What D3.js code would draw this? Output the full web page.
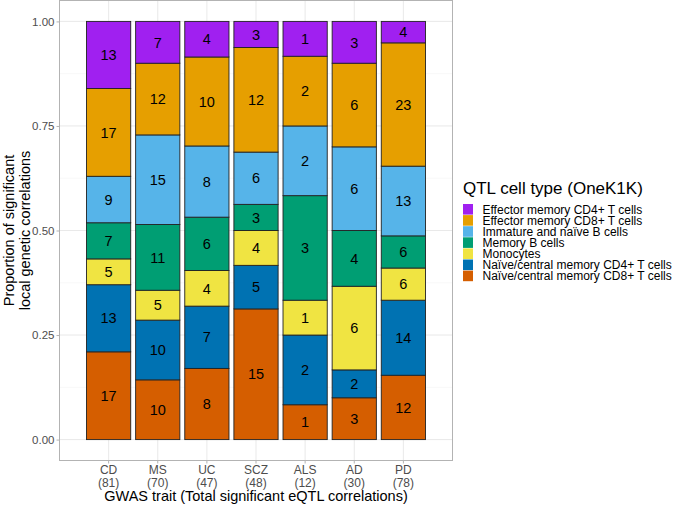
<!DOCTYPE html>
<html>
<head>
<meta charset="utf-8">
<style>
    body { margin: 0; background: white; }
    svg { font-family: 'Liberation Sans', Arial, Helvetica, sans-serif; }
</style>
</head>
<body>
<svg width="675" height="507"></svg>
<script src="https://d3js.org/d3.v7.min.js"></script>
<script>
    // traits along the x axis, with their totals
    let traits = ["CD", "MS", "UC", "SCZ", "ALS", "AD", "PD"];
    let totals = [81, 70, 47, 48, 12, 30, 78];

    // cell types, legend order (top of stack first)
    let cellTypes = [
        "Effector memory CD4+ T cells",
        "Effector memory CD8+ T cells",
        "Immature and naïve B cells",
        "Memory B cells",
        "Monocytes",
        "Naïve/central memory CD4+ T cells",
        "Naïve/central memory CD8+ T cells"
    ];
    let cellColors = ["#A020F0", "#E69F00", "#56B4E9", "#009E73", "#F0E442", "#0072B2", "#D55E00"];

    // counts per cell type, one value per trait
    let effCD4   = [13, 7, 4, 3, 1, 3, 4];
    let effCD8   = [17, 12, 10, 12, 2, 6, 23];
    let immB     = [9, 15, 8, 6, 2, 6, 13];
    let memB     = [7, 11, 6, 3, 3, 4, 6];
    let mono     = [5, 5, 4, 4, 1, 6, 6];
    let naiveCD4 = [13, 10, 7, 5, 2, 2, 14];
    let naiveCD8 = [17, 10, 8, 15, 1, 3, 12];

    let yTicks = [0, 0.25, 0.5, 0.75, 1];

    let seriesCounts = [effCD4, effCD8, immB, memB, mono, naiveCD4, naiveCD8];
    let rows = traits.map((t, i) => {
        let r = { trait: t };
        cellTypes.forEach((c, j) => r[c] = seriesCounts[j][i]);
        return r;
    });

    let svg = d3.select("svg");
    let panel = { left: 59.5, right: 452.5, top: 0.5, bottom: 460.5 };

    let x = d3.scaleBand()
        .domain(traits)
        .range([panel.left, panel.right])
        .paddingInner(0.1)
        .paddingOuter(0.55);

    let y = d3.scaleLinear()
        .domain([-0.05, 1.05])
        .range([panel.bottom, panel.top]);

    // grid
    let g = svg.append("g");
    let minor = [0.125, 0.375, 0.625, 0.875];
    g.selectAll(".minor").data(minor).join("line")
        .attr("x1", panel.left).attr("x2", panel.right)
        .attr("y1", d => y(d)).attr("y2", d => y(d))
        .attr("stroke", "#f0f0f0").attr("stroke-width", 0.5);
    g.selectAll(".major").data(yTicks).join("line")
        .attr("x1", panel.left).attr("x2", panel.right)
        .attr("y1", d => y(d)).attr("y2", d => y(d))
        .attr("stroke", "#e3e3e3").attr("stroke-width", 0.8);
    g.selectAll(".vgrid").data(traits).join("line")
        .attr("x1", d => x(d) + x.bandwidth() / 2).attr("x2", d => x(d) + x.bandwidth() / 2)
        .attr("y1", panel.top).attr("y2", panel.bottom)
        .attr("stroke", "#e3e3e3").attr("stroke-width", 0.8);

    // stacked bars, bottom = last cell type
    let stack = d3.stack()
        .keys(cellTypes.slice().reverse())
        .offset(d3.stackOffsetExpand);
    let layers = stack(rows);

    let color = d3.scaleOrdinal().domain(cellTypes).range(cellColors);

    let layer = svg.selectAll(".layer")
        .data(layers)
        .join("g")
        .attr("fill", d => color(d.key));

    layer.selectAll("rect")
        .data(d => d.map(p => ({ key: d.key, p: p })))
        .join("rect")
        .attr("x", d => x(d.p.data.trait))
        .attr("width", x.bandwidth())
        .attr("y", d => y(d.p[1]))
        .attr("height", d => y(d.p[0]) - y(d.p[1]))
        .attr("stroke", "#222")
        .attr("stroke-width", 0.9);

    layer.selectAll("text")
        .data(d => d.map(p => ({ key: d.key, p: p })))
        .join("text")
        .attr("x", d => x(d.p.data.trait) + x.bandwidth() / 2)
        .attr("y", d => (y(d.p[0]) + y(d.p[1])) / 2)
        .attr("dy", "0.36em")
        .attr("text-anchor", "middle")
        .attr("fill", "black")
        .style("font-size", "14.5px")
        .text(d => d.p.data[d.key]);

    // panel border
    svg.append("rect")
        .attr("x", panel.left).attr("y", panel.top)
        .attr("width", panel.right - panel.left).attr("height", panel.bottom - panel.top)
        .attr("fill", "none").attr("stroke", "#b3b3b3").attr("stroke-width", 1);

    // y axis
    let yAxis = svg.append("g")
        .attr("transform", `translate(${panel.left},0)`)
        .call(d3.axisLeft(y).tickValues(yTicks).tickFormat(d3.format(".2f")).tickSize(3).tickPadding(2));
    yAxis.select(".domain").remove();
    yAxis.selectAll("line").attr("stroke", "#b3b3b3");
    yAxis.selectAll("text").attr("fill", "#4d4d4d").style("font-size", "11.5px");

    // x axis labels
    let xl = svg.append("g");
    xl.selectAll(".tk").data(traits).join("line")
        .attr("x1", d => x(d) + x.bandwidth() / 2).attr("x2", d => x(d) + x.bandwidth() / 2)
        .attr("y1", panel.bottom).attr("y2", panel.bottom + 3)
        .attr("stroke", "#b3b3b3");
    let xt = xl.selectAll(".lab").data(traits).join("text")
        .attr("text-anchor", "middle")
        .attr("fill", "#4d4d4d")
        .style("font-size", "12px");
    xt.append("tspan")
        .attr("x", d => x(d) + x.bandwidth() / 2)
        .attr("y", 474)
        .text(d => d);
    xt.append("tspan")
        .attr("x", d => x(d) + x.bandwidth() / 2)
        .attr("y", 486.5)
        .text((d, i) => "(" + totals[i] + ")");

    // axis titles
    svg.append("text")
        .attr("x", (panel.left + panel.right) / 2)
        .attr("y", 501)
        .attr("text-anchor", "middle")
        .style("font-size", "14.5px")
        .text("GWAS trait (Total significant eQTL correlations)");

    let yt = svg.append("text")
        .attr("transform", `translate(0,${(panel.top + panel.bottom) / 2}) rotate(-90)`)
        .attr("text-anchor", "middle")
        .style("font-size", "14.5px");
    yt.append("tspan").attr("x", 0).attr("y", 14).text("Proportion of significant");
    yt.append("tspan").attr("x", 0).attr("y", 30).text("local genetic correlations");

    // legend
    let lg = svg.append("g").attr("transform", "translate(463,0)");
    lg.append("text")
        .attr("x", 0).attr("y", 194)
        .style("font-size", "17px")
        .text("QTL cell type (OneK1K)");
    let keyH = 11.1;
    let items = lg.selectAll(".item").data(cellTypes).join("g")
        .attr("transform", (d, i) => `translate(0,${204 + i * keyH})`);
    items.append("rect")
        .attr("width", 10).attr("height", keyH - 0.5)
        .attr("fill", d => color(d));
    items.append("text")
        .attr("x", 19.5).attr("y", keyH / 2)
        .attr("dy", "0.36em")
        .style("font-size", "12px")
        .text(d => d);
</script>
</body>
</html>
